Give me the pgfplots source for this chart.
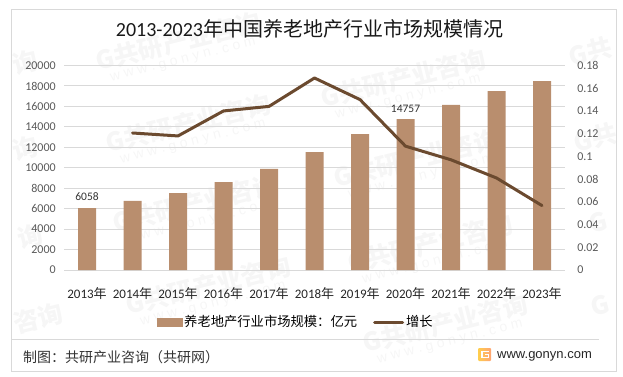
\documentclass[border=0pt]{standalone}
\usepackage{fontspec}
\usepackage{pgfplots}
\pgfplotsset{compat=1.18}
\setmainfont{Carlito}
\newfontfamily\cjk{Noto Sans CJK SC}
\newfontfamily\arial{Liberation Sans}
\definecolor{barc}{HTML}{B98E6E}
\definecolor{linec}{HTML}{6B4A2F}
\definecolor{gridc}{HTML}{D9D9D9}
\definecolor{framec}{HTML}{D9D9D9}
\definecolor{tickc}{HTML}{595959}
\definecolor{wmc}{HTML}{F6F6F6}
\newcommand{\fs}[1]{\fontsize{#1}{#1}\selectfont}
\newcommand{\wm}[2]{%
  \node[rotate=14,text=wmc,inner sep=0pt] at (#1pt,376pt-#2pt)
    {\begin{tabular}{@{}c@{}}{\cjk\fs{25}\bfseries G共研产业咨询}\\[1pt]{\arial\fs{14}w\ w\ w\ .\ g\ o\ n\ y\ n\ .\ c\ o\ m}\end{tabular}};}
\newcommand{\wmp}[3]{%
  \node[rotate=14,text=wmc,inner sep=0pt] at (#1pt,376pt-#2pt) {\cjk\fs{25}\bfseries #3};}
\begin{document}
\begin{tikzpicture}[x=1pt,y=1pt]
\path (0,0) rectangle (623,376);
\wm{180}{48}\wm{405}{85}\wmp{590}{52}{G共}
\wmp{25}{62}{询}\wm{190}{130}\wm{418}{165}\wmp{595}{138}{G共}
\wmp{25}{148}{询}\wm{197}{210}\wm{432}{250}\wmp{598}{222}{G}
\wmp{30}{236}{询}\wm{210}{292}\wm{447}{330}\wmp{600}{305}{G}
\wmp{38}{318}{咨询}
\draw[framec,line width=1pt] (11.5,5) rectangle (616,367);
\draw[framec,line width=1pt] (11.5,36.5) -- (599,36.5);

\begin{axis}[
  at={(64.25pt,106pt)},anchor=south west,
  scale only axis,width=500.5pt,height=204.5pt,
  xmin=-0.5,xmax=10.5,ymin=0,ymax=20000,
  axis y line*=left,axis x line*=bottom,
  y axis line style={draw=none},
  x axis line style={gridc,line width=1pt},
  xtick=data,
  xticklabels={2013{\cjk 年},2014{\cjk 年},2015{\cjk 年},2016{\cjk 年},2017{\cjk 年},2018{\cjk 年},2019{\cjk 年},2020{\cjk 年},2021{\cjk 年},2022{\cjk 年},2023{\cjk 年}},
  x tick label style={font=\fs{13},text=black!85,yshift=-14pt},
  x tick style={draw=none},
  ytick={0,2000,...,20000},
  y tick style={draw=none},
  y tick label style={font=\fs{12},text=tickc,xshift=-5pt},
  /pgf/number format/assume math mode=true,
  /pgf/number format/1000 sep={},
  scaled y ticks=false,
  ymajorgrids,
  grid style={gridc,line width=1pt},
  axis on top=false,
]
\addplot[ybar,bar width=18pt,bar shift=0pt,fill=barc,draw=none] coordinates {
 (0,6058)(1,6750)(2,7530)(3,8600)(4,9880)(5,11540)(6,13300)(7,14757)(8,16140)(9,17500)(10,18480)};
\addplot[only marks,mark=none,forget plot,
  nodes near coords,
  nodes near coords style={font=\fs{11.5},text=black!80,anchor=south,yshift=3.5pt,
    /pgf/number format/1000 sep={},/pgf/number format/assume math mode=true}]
  coordinates {(0,6058)(7,14757)};
\end{axis}

\begin{axis}[
  at={(64.25pt,106pt)},anchor=south west,
  scale only axis,width=500.5pt,height=204.5pt,
  xmin=-0.5,xmax=10.5,ymin=0,ymax=0.18,
  axis y line*=right,axis x line=none,
  y axis line style={draw=none},
  ytick={0,0.02,...,0.181},
  yticklabels={0,0.02,0.04,0.06,0.08,0.1,0.12,0.14,0.16,0.18},
  y tick style={draw=none},
  y tick label style={font=\fs{12},text=tickc,xshift=9pt},
  /pgf/number format/assume math mode=true,
  legend columns=2,
  legend style={draw=none,fill=none,at={(231.5pt,-52pt)},anchor=center,
    font=\fs{13.3},inner sep=0pt,
    /tikz/every even column/.append style={column sep=14pt}},
]
\addlegendimage{legend image code/.code={\fill[barc] (-4pt,-4pt) rectangle (21pt,4pt);}}
\addlegendentry{{\cjk 养老地产行业市场规模：亿元}}
\addplot[linec,line width=3pt,line cap=round,line join=round,
  legend image code/.code={\draw[linec,line width=3pt,line cap=round] (-4pt,0pt) -- (24pt,0pt);}]
  coordinates {(1,0.1206)(2,0.118)(3,0.140)(4,0.144)(5,0.169)(6,0.150)(7,0.109)(8,0.097)(9,0.081)(10,0.0567)};
\addlegendentry{{\cjk 增长}}
\end{axis}

\node[text=black!90,inner sep=0pt] at (309.5,347) {\fs{20}2013-2023{\cjk 年中国养老地产行业市场规模情况}};
\node[anchor=west,inner sep=0pt,text=black!80] at (23,19) {\cjk\fs{14}制图：共研产业咨询（共研网）};
\node[anchor=west,inner sep=0pt,text=black!85] at (497,20) {\arial\fs{13}www.gonyn.com};
\shade[left color=orange!55!yellow!70,right color=orange!70!red!55,rounded corners=1pt] (478,15) rectangle (491,28);
\draw[white,line width=1.4pt] (488.5,24.5) -- (482,24.5) -- (482,18.5) -- (488.5,18.5) -- (488.5,21.5) -- (485,21.5);
\end{tikzpicture}
\end{document}
